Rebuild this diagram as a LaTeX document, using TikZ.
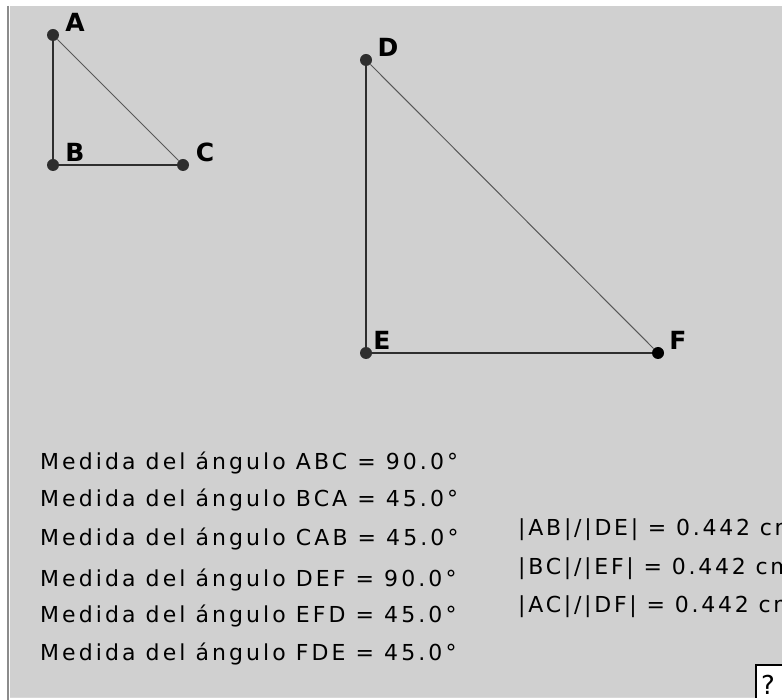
\documentclass[tikz,border=0pt]{standalone}
\usepackage{fontspec}
\setmainfont{DejaVu Sans}
\newfontfamily\lblfont{DejaVu Sans}[LetterSpace=14]
\newfontfamily\ratfont{DejaVu Sans}[LetterSpace=12.5]
\newfontfamily\ptfont{DejaVu Sans Bold}
\definecolor{bgc}{HTML}{D0D0D0}
\definecolor{ptc}{HTML}{2E2E2E}
\definecolor{brd}{HTML}{8C8C8C}
\begin{document}
\begin{tikzpicture}[x=1pt,y=-1pt,
  pt/.style={circle,fill=ptc,inner sep=0pt,minimum size=12pt},
  ptlabel/.style={font=\ptfont\fontsize{25}{25}\selectfont,inner sep=0pt},
  thick side/.style={line width=2pt,draw=ptc},
  thin side/.style={line width=1pt,draw=ptc!80},
  info/.style={font=\lblfont\fontsize{22}{22}\selectfont,anchor=base west,inner sep=0pt},
  ratio/.style={font=\ratfont\fontsize{22}{22}\selectfont,anchor=base west,inner sep=0pt}]
\useasboundingbox (0,0) rectangle (782,700);
\fill[white] (0,0) rectangle (782,700);
\fill[bgc] (10,6) rectangle (782,697);
\draw[brd,line width=2pt] (8,6) -- (8,700);
\draw[white!85!black,line width=1pt] (10,697.5) -- (782,697.5);
\begin{scope}
\clip (10,6) rectangle (782,697);
% points
\node[pt] (A) at (53,35) {};
\node[pt] (B) at (53,165) {};
\node[pt] (C) at (183,165) {};
\node[pt] (D) at (366,60) {};
\node[pt] (E) at (366,353) {};
\node[pt,fill=black] (F) at (658,353) {};
% sides
\draw[thick side] (A) -- (B);
\draw[thick side] (B) -- (C);
\draw[thin side] (A) -- (C);
\draw[thick side] (D) -- (E);
\draw[thick side] (E) -- (F);
\draw[thin side] (D) -- (F);
% labels
\node[ptlabel] (lA) at (75,22) {A};
\node[ptlabel] (lB) at (75,152) {B};
\node[ptlabel] (lC) at (205,152) {C};
\node[ptlabel] (lD) at (388,47) {D};
\node[ptlabel] (lE) at (382,340) {E};
\node[ptlabel] (lF) at (678,340) {F};
% measures
\node[info] (m1) at (40,469) {Medida del ángulo ABC = 90.0°};
\node[info] (m2) at (40,506) {Medida del ángulo BCA = 45.0°};
\node[info] (m3) at (40,545) {Medida del ángulo CAB = 45.0°};
\node[info] (m4) at (40,586) {Medida del ángulo DEF = 90.0°};
\node[info] (m5) at (40,622) {Medida del ángulo EFD = 45.0°};
\node[info] (m6) at (40,660) {Medida del ángulo FDE = 45.0°};
\node[ratio] (r1) at (518,535) {|AB|/|DE| = 0.442 cm};
\node[ratio] (r2) at (518,574) {|BC|/|EF| = 0.442 cm};
\node[ratio] (r3) at (518,612) {|AC|/|DF| = 0.442 cm};
% help box
\node[draw=black,line width=2pt,fill=white,anchor=north west,minimum width=40pt,minimum height=40pt,inner sep=0pt] (help) at (755,664) {};
\node[font=\fontsize{26}{26}\selectfont,anchor=base west,inner sep=0pt] (q) at (761,694) {?};
\end{scope}
\end{tikzpicture}
\end{document}
